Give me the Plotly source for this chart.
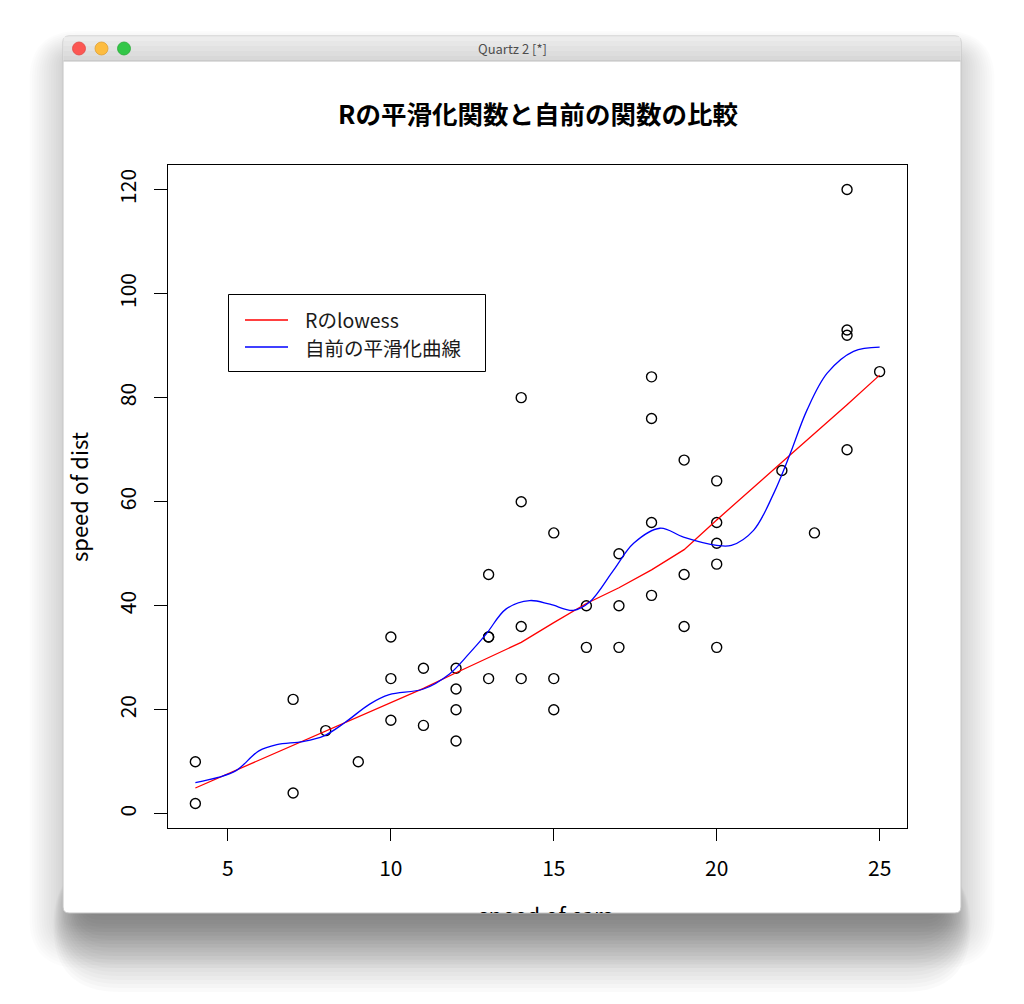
import plotly.graph_objects as go

# ---------------- data (R "cars" dataset) ----------------
speed = [4, 4, 7, 7, 8, 9, 10, 10, 10, 11, 11, 12, 12, 12, 12, 13, 13, 13, 13, 14, 14, 14, 14,
         15, 15, 15, 16, 16, 17, 17, 17, 18, 18, 18, 18, 19, 19, 19, 20, 20, 20, 20, 20, 22, 23,
         24, 24, 24, 24, 25]
dist = [2, 10, 4, 22, 16, 10, 18, 26, 34, 17, 28, 14, 20, 24, 28, 26, 34, 34, 46, 26, 36, 60, 80,
        20, 26, 54, 32, 40, 32, 40, 50, 42, 56, 76, 84, 36, 46, 68, 32, 48, 52, 56, 64, 66, 54,
        70, 92, 93, 120, 85]

# R lowess fit at the distinct speeds
lowess_x = [4, 7, 8, 9, 10, 11, 12, 13, 14, 15, 16, 17, 18, 19, 20, 22, 23, 24, 25]
lowess_y = [4.97, 13.12, 15.86, 18.58, 21.28, 24.13, 27.12, 30.03, 32.96, 36.76, 40.44,
            43.46, 46.89, 50.79, 56.49, 67.59, 73.08, 78.64, 84.33]

# home-made smoothing curve
smooth_x = [4.0, 4.7, 5.25, 5.95, 6.5, 7.3, 7.95, 8.6, 9.35, 9.95, 11.0, 11.8, 12.4, 12.93,
            13.54, 14.26, 14.88, 15.6, 16.1, 16.83, 17.45, 18.26, 18.98, 20.0, 20.45, 21.13,
            21.75, 22.26, 22.77, 23.39, 24.2, 25.0]
smooth_y = [6.0, 7.0, 8.3, 12.1, 13.3, 13.9, 15.0, 17.6, 21.1, 22.9, 24.0, 26.9, 30.8, 34.6,
            39.4, 41.0, 40.3, 39.1, 40.7, 46.8, 52.0, 54.9, 53.2, 51.6, 51.6, 54.5,
            61.6, 69.3, 77.6, 84.7, 88.9, 89.7]

x_ticks = [5, 10, 15, 20, 25]
y_ticks = [0, 20, 40, 60, 80, 100, 120]

title_text = "Rの平滑化関数と自前の関数の比較"
xlab = "speed of cars"
ylab = "speed of dist"
legend_labels = ["Rのlowess", "自前の平滑化曲線"]
window_title = "Quartz 2 [*]"

FONT = "Noto Sans CJK JP, Noto Sans, sans-serif"
OFF = 8            # page body margin
W, H = 1016, 996


def px(p):
    return (p - OFF) / W


def py(p):
    return 1 - (p - OFF) / H


def rr_path(x0, y0, x1, y1, r, top_only=False):
    r = min(r, (x1 - x0) / 2, (y1 - y0) / 2)
    X = px
    Y = py
    if top_only:
        return (f"M {X(x0)},{Y(y1)} L {X(x0)},{Y(y0 + r)} Q {X(x0)},{Y(y0)} {X(x0 + r)},{Y(y0)} "
                f"L {X(x1 - r)},{Y(y0)} Q {X(x1)},{Y(y0)} {X(x1)},{Y(y0 + r)} L {X(x1)},{Y(y1)} Z")
    return (f"M {X(x0 + r)},{Y(y0)} L {X(x1 - r)},{Y(y0)} Q {X(x1)},{Y(y0)} {X(x1)},{Y(y0 + r)} "
            f"L {X(x1)},{Y(y1 - r)} Q {X(x1)},{Y(y1)} {X(x1 - r)},{Y(y1)} "
            f"L {X(x0 + r)},{Y(y1)} Q {X(x0)},{Y(y1)} {X(x0)},{Y(y1 - r)} "
            f"L {X(x0)},{Y(y0 + r)} Q {X(x0)},{Y(y0)} {X(x0 + r)},{Y(y0)} Z")


shapes = []
# window shadow - all around (light)
for i in range(15):
    s = 3 * i
    shapes.append(dict(type="path", xref="paper", yref="paper", layer="below",
                       path=rr_path(63 - 0.8 * s, 56 - 0.6 * s, 961 + 0.8 * s, 926 + s, 8 + s),
                       fillcolor="rgba(0,0,0,0.013)", line=dict(width=0)))
# window shadow - bottom (heavier)
for i in range(20):
    s = 4 * i
    shapes.append(dict(type="path", xref="paper", yref="paper", layer="below",
                       path=rr_path(80 - 0.35 * s, 860, 944 + 0.35 * s, 916 + s, 20 + 0.7 * s),
                       fillcolor="rgba(0,0,0,0.021)", line=dict(width=0)))
# window body
shapes.append(dict(type="path", xref="paper", yref="paper", layer="below",
                   path=rr_path(63, 36, 961, 913, 6), fillcolor="white",
                   line=dict(color="#c4c4c4", width=1)))
# title bar (gradient strips)
bar_cols = ["#ececec", "#e7e7e7", "#e2e2e2", "#dddddd", "#d8d8d8"]
for k, c in enumerate(bar_cols):
    y0 = 36 + 5 * k
    y1 = y0 + 5
    if k == 0:
        shapes.append(dict(type="path", xref="paper", yref="paper", layer="below",
                           path=rr_path(63.5, 36.5, 960.5, y1, 6, top_only=True),
                           fillcolor=c, line=dict(width=0)))
    else:
        shapes.append(dict(type="rect", xref="paper", yref="paper", layer="below",
                           x0=px(63.5), x1=px(960.5), y0=py(y0), y1=py(y1),
                           fillcolor=c, line=dict(width=0)))
shapes.append(dict(type="line", xref="paper", yref="paper", layer="below",
                   x0=px(63.5), x1=px(960.5), y0=py(61), y1=py(61),
                   line=dict(color="#bdbdbd", width=1)))
# traffic lights
for cx, fc, lc in [(79, "#fc5753", "#df4744"), (101.5, "#fdbc40", "#de9f34"), (124, "#33c748", "#27aa35")]:
    r = 6.5
    shapes.append(dict(type="circle", xref="paper", yref="paper", layer="below",
                       x0=px(cx - r), x1=px(cx + r), y0=py(48.5 - r), y1=py(48.5 + r),
                       fillcolor=fc, line=dict(color=lc, width=0.8)))

# legend box
shapes.append(dict(type="rect", xref="paper", yref="paper", layer="above",
                   x0=px(228.5), x1=px(485.5), y0=py(294.5), y1=py(371.5),
                   line=dict(color="black", width=1), fillcolor="rgba(0,0,0,0)"))
shapes.append(dict(type="line", xref="paper", yref="paper", layer="above",
                   x0=px(245), x1=px(288), y0=py(320), y1=py(320),
                   line=dict(color="#ff0000", width=1.3)))
shapes.append(dict(type="line", xref="paper", yref="paper", layer="above",
                   x0=px(245), x1=px(288), y0=py(347), y1=py(347),
                   line=dict(color="#0000ff", width=1.3)))

annotations = [
    dict(text=f"<b>{title_text}</b>", x=px(537.5), y=py(113), xref="paper", yref="paper",
         showarrow=False, xanchor="center", yanchor="middle",
         font=dict(family=FONT, size=25.5, color="black")),
    dict(text=ylab, x=px(78), y=py(497), xref="paper", yref="paper", textangle=-90,
         showarrow=False, xanchor="center", yanchor="middle",
         font=dict(family=FONT, size=22, color="black")),
    dict(text=legend_labels[0], x=px(303), y=py(319.25), xref="paper", yref="paper",
         showarrow=False, xanchor="left", yanchor="middle",
         font=dict(family=FONT, size=19.5, color="#1a1a1a")),
    dict(text=legend_labels[1], x=px(303), y=py(347.75), xref="paper", yref="paper",
         showarrow=False, xanchor="left", yanchor="middle",
         font=dict(family=FONT, size=19.5, color="#1a1a1a")),
    dict(text=window_title, x=px(512), y=py(49), xref="paper", yref="paper",
         showarrow=False, xanchor="center", yanchor="middle",
         font=dict(family=FONT, size=13, color="#4d4d4d")),
]

fig = go.Figure()
fig.add_trace(go.Scatter(x=speed, y=dist, mode="markers",
                         marker=dict(symbol="circle-open", size=10, color="black",
                                     line=dict(width=1.4, color="black")),
                         hoverinfo="skip"))
fig.add_trace(go.Scatter(x=lowess_x, y=lowess_y, mode="lines",
                         line=dict(color="#ff0000", width=1.3), hoverinfo="skip"))
fig.add_trace(go.Scatter(x=smooth_x, y=smooth_y, mode="lines",
                         line=dict(color="#0000ff", width=1.3, shape="spline", smoothing=1.0),
                         hoverinfo="skip"))
# clipped x-axis title (cut off by the window edge)
fig.add_trace(go.Scatter(x=[537.5], y=[918], mode="text", text=[xlab],
                         textposition="middle center", cliponaxis=True,
                         textfont=dict(family=FONT, size=22, color="black"),
                         xaxis="x2", yaxis="y2", hoverinfo="skip"))

fig.update_layout(
    width=W, height=H,
    template="none",
    margin=dict(l=0, r=0, t=0, b=0, pad=0),
    paper_bgcolor="white", plot_bgcolor="rgba(0,0,0,0)",
    showlegend=False,
    font=dict(family=FONT, size=20, color="black"),
    shapes=shapes, annotations=annotations,
    xaxis=dict(domain=[px(168), px(907)], range=[3.16, 25.84], tickvals=x_ticks,
               ticks="outside", ticklen=12, tickwidth=1, tickcolor="black",
               showline=True, mirror=True, linecolor="black", linewidth=1,
               showgrid=False, zeroline=False, automargin=False, ticklabelstandoff=10,
               tickfont=dict(family=FONT, size=21, color="black")),
    yaxis=dict(domain=[py(828), py(165)], range=[-2.72, 124.72], tickvals=y_ticks,
               ticks="outside", ticklen=13, tickwidth=1, tickcolor="black",
               showline=True, mirror=True, linecolor="black", linewidth=1,
               showgrid=False, zeroline=False, automargin=False, tickangle=-90,
               ticklabelstandoff=10,
               tickfont=dict(family=FONT, size=21, color="black")),
    xaxis2=dict(domain=[0, 1], range=[0, W], visible=False, anchor="y2", fixedrange=True),
    yaxis2=dict(domain=[py(913), py(893)], range=[913, 893], visible=False, anchor="x2",
                fixedrange=True),
)

fig.write_html("out.html")
